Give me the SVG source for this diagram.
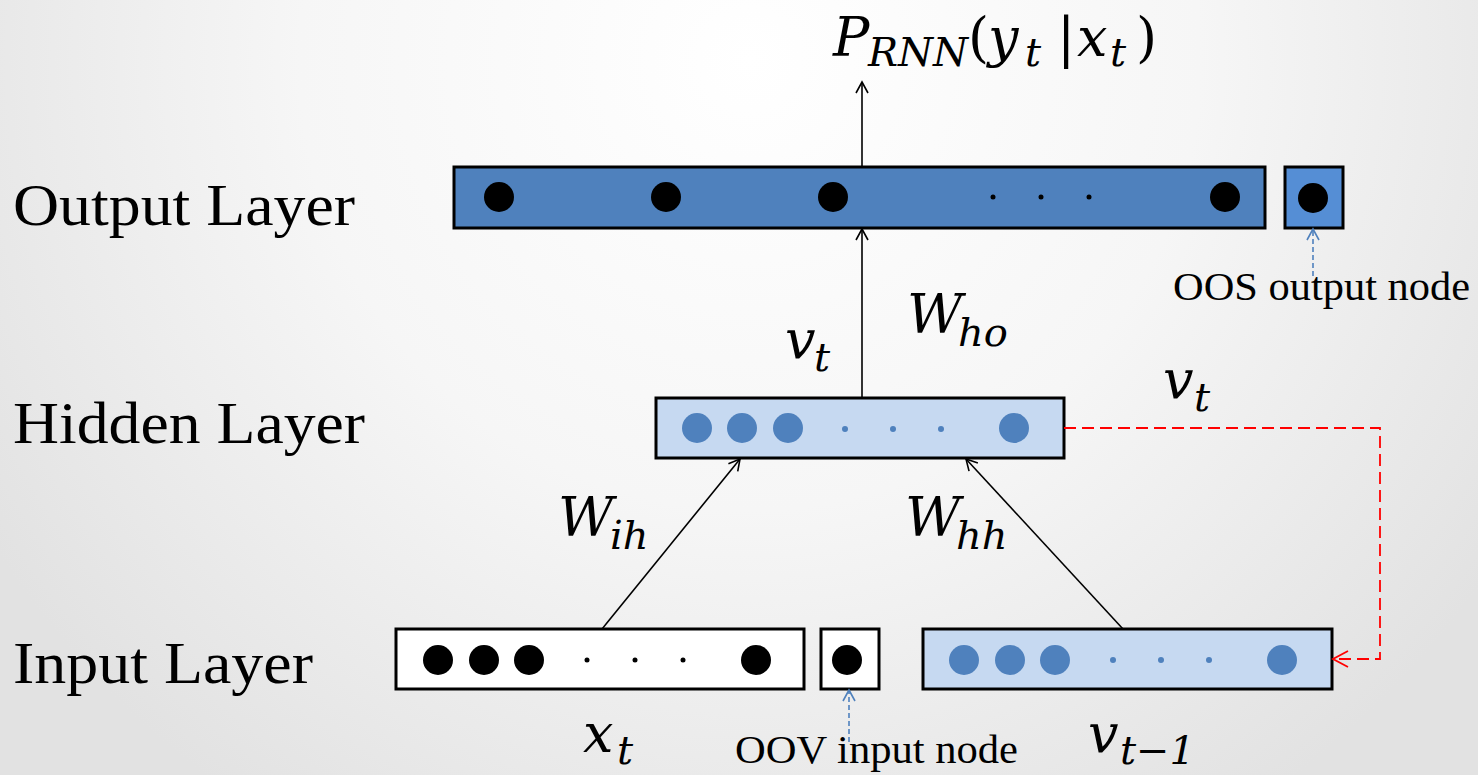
<svg xmlns="http://www.w3.org/2000/svg" width="1478" height="775" viewBox="0 0 1478 775">
<defs>
<radialGradient id="bg" cx="750" cy="60" r="900" gradientUnits="userSpaceOnUse">
<stop offset="0" stop-color="#ffffff"/>
<stop offset="0.5" stop-color="#f6f6f6"/>
<stop offset="1" stop-color="#e2e2e2"/>
</radialGradient>
<marker id="ah" markerWidth="14" markerHeight="14" refX="12" refY="7" orient="auto" markerUnits="userSpaceOnUse">
<path d="M1,1 L12,7 L1,13" fill="none" stroke="#000" stroke-width="1.6"/>
</marker>
<marker id="ahb" markerWidth="14" markerHeight="14" refX="12" refY="7" orient="auto" markerUnits="userSpaceOnUse">
<path d="M1,1 L12,7 L1,13" fill="none" stroke="#4f81bd" stroke-width="1.6"/>
</marker>
<marker id="ahr" markerWidth="18" markerHeight="18" refX="16" refY="9" orient="auto" markerUnits="userSpaceOnUse">
<path d="M1,1 L16,9 L1,17" fill="none" stroke="#ff0000" stroke-width="1.8"/>
</marker>
</defs>
<style>
.lab{font-family:"Liberation Serif",serif;font-size:60px;fill:#000}
.sm{font-family:"Liberation Serif",serif;font-size:40px;fill:#000}
.m{font-family:"DejaVu Serif","Liberation Serif",serif;font-style:italic;font-size:54px;fill:#000}
.ms{font-family:"DejaVu Serif","Liberation Serif",serif;font-style:italic;font-size:40px;fill:#000}
.mu{font-family:"DejaVu Serif","Liberation Serif",serif;font-size:54px;fill:#000}
.bar{stroke:#000;stroke-width:3}
.dk{fill:#4f81bd}
.lt{fill:#c6d9f1}
.wh{fill:#ffffff}
.bk{fill:#000}
.bd{fill:#4f81bd}
</style>
<rect width="1478" height="775" fill="url(#bg)"/>

<g id="labels">
<text class="lab" x="13" y="225" textLength="342" lengthAdjust="spacingAndGlyphs">Output Layer</text>
<text class="lab" x="13" y="443" textLength="352" lengthAdjust="spacingAndGlyphs">Hidden Layer</text>
<text class="lab" x="13" y="683" textLength="300" lengthAdjust="spacingAndGlyphs">Input Layer</text>
</g>

<g id="output-layer">
<rect class="bar dk" x="454" y="167" width="811" height="61"/>
<circle class="bk" cx="499" cy="197" r="15"/>
<circle class="bk" cx="666" cy="197" r="15"/>
<circle class="bk" cx="833" cy="197" r="15"/>
<circle class="bk" cx="993" cy="197" r="2.5"/>
<circle class="bk" cx="1041" cy="197" r="2.5"/>
<circle class="bk" cx="1089" cy="197" r="2.5"/>
<circle class="bk" cx="1225" cy="197" r="15"/>
</g>

<g id="oos-node">
<rect class="bar" fill="#558ed5" x="1285" y="167" width="58" height="61"/>
<circle class="bk" cx="1313" cy="198" r="15"/>
<text class="sm" x="1173" y="300" textLength="297" lengthAdjust="spacingAndGlyphs">OOS output node</text>
</g>

<g id="hidden-layer">
<rect class="bar lt" x="656" y="398" width="408" height="60"/>
<circle class="bd" cx="697" cy="428" r="15"/>
<circle class="bd" cx="742" cy="428" r="15"/>
<circle class="bd" cx="788" cy="428" r="15"/>
<circle class="bd" cx="845" cy="429" r="3"/>
<circle class="bd" cx="893" cy="429" r="3"/>
<circle class="bd" cx="941" cy="429" r="3"/>
<circle class="bd" cx="1014" cy="428" r="15"/>
</g>

<g id="input-layer">
<rect class="bar wh" x="396" y="629" width="408" height="60"/>
<circle class="bk" cx="438" cy="660" r="15"/>
<circle class="bk" cx="484" cy="660" r="15"/>
<circle class="bk" cx="529" cy="660" r="15"/>
<circle class="bk" cx="587" cy="660" r="2.5"/>
<circle class="bk" cx="635" cy="660" r="2.5"/>
<circle class="bk" cx="683" cy="660" r="2.5"/>
<circle class="bk" cx="756" cy="660" r="15"/>
</g>

<g id="oov-node">
<rect class="bar wh" x="821" y="629" width="58" height="60"/>
<circle class="bk" cx="847" cy="660" r="15"/>
<text class="sm" x="735" y="763" textLength="283" lengthAdjust="spacingAndGlyphs">OOV input node</text>
</g>

<g id="prev-hidden">
<rect class="bar lt" x="923" y="629" width="409" height="60"/>
<circle class="bd" cx="964" cy="660" r="15"/>
<circle class="bd" cx="1010" cy="660" r="15"/>
<circle class="bd" cx="1055" cy="660" r="15"/>
<circle class="bd" cx="1113" cy="660" r="3"/>
<circle class="bd" cx="1161" cy="660" r="3"/>
<circle class="bd" cx="1209" cy="660" r="3"/>
<circle class="bd" cx="1282" cy="660" r="15"/>
</g>

<g id="connectors" fill="none">
<line x1="862" y1="167" x2="862" y2="82" stroke="#000" stroke-width="1.6" marker-end="url(#ah)"/>
<line x1="862" y1="398" x2="862" y2="229" stroke="#000" stroke-width="1.6" marker-end="url(#ah)"/>
<line x1="602" y1="629" x2="740" y2="459" stroke="#000" stroke-width="1.6" marker-end="url(#ah)"/>
<line x1="1123" y1="629" x2="966" y2="459" stroke="#000" stroke-width="1.6" marker-end="url(#ah)"/>
<line x1="1313" y1="276" x2="1313" y2="229" stroke="#4f81bd" stroke-width="1.6" stroke-dasharray="5,3" marker-end="url(#ahb)"/>
<line x1="849" y1="742" x2="849" y2="690" stroke="#4f81bd" stroke-width="1.6" stroke-dasharray="5,3" marker-end="url(#ahb)"/>
<polyline points="1064,428 1380,428 1380,659 1333,659" stroke="#ff0000" stroke-width="1.8" stroke-dasharray="12,6" marker-end="url(#ahr)"/>
</g>

<g id="math">
<text y="56"><tspan class="m" x="833">P</tspan><tspan class="ms" x="868" y="66">RNN</tspan><tspan class="mu" x="968" y="56">(</tspan><tspan class="m" x="988">y</tspan><tspan class="ms" x="1025" y="66">t</tspan><tspan class="mu" x="1057" y="56">|</tspan><tspan class="m" x="1077">x</tspan><tspan class="ms" x="1110" y="66">t</tspan><tspan class="mu" x="1136" y="56">)</tspan></text>
<text y="333"><tspan class="m" x="907">W</tspan><tspan class="ms" x="958" y="346">ho</tspan></text>
<text y="358"><tspan class="m" x="785">v</tspan><tspan class="ms" x="814" y="371">t</tspan></text>
<text y="398"><tspan class="m" x="1163">v</tspan><tspan class="ms" x="1194" y="411">t</tspan></text>
<text y="536"><tspan class="m" x="558">W</tspan><tspan class="ms" x="610" y="549">ih</tspan></text>
<text y="536"><tspan class="m" x="905">W</tspan><tspan class="ms" x="956" y="549">hh</tspan></text>
<text y="752"><tspan class="m" x="583">x</tspan><tspan class="ms" x="617" y="764">t</tspan></text>
<text y="752"><tspan class="m" x="1088">v</tspan><tspan class="ms" x="1120" y="764">t−1</tspan></text>
</g>
</svg>
